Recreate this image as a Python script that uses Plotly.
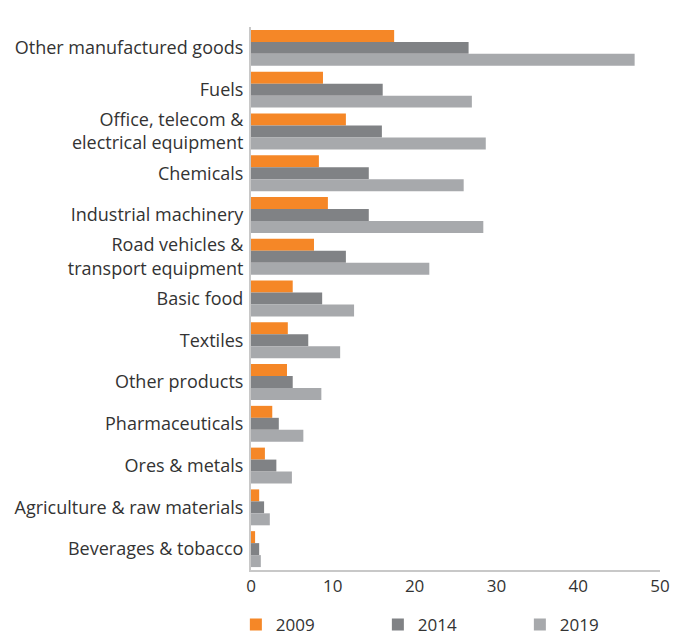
import plotly.graph_objects as go

categories = [
    "Other manufactured goods",
    "Fuels",
    "Office, telecom &<br>electrical equipment",
    "Chemicals",
    "Industrial machinery",
    "Road vehicles &<br>transport equipment",
    "Basic food",
    "Textiles",
    "Other products",
    "Pharmaceuticals",
    "Ores & metals",
    "Agriculture & raw materials",
    "Beverages & tobacco",
]
v2009 = [17.5, 8.8, 11.6, 8.3, 9.4, 7.7, 5.1, 4.5, 4.4, 2.6, 1.7, 1.0, 0.5]
v2014 = [26.6, 16.1, 16.0, 14.4, 14.4, 11.6, 8.7, 7.0, 5.1, 3.4, 3.1, 1.6, 1.0]
v2019 = [46.9, 27.0, 28.7, 26.0, 28.4, 21.8, 12.6, 10.9, 8.6, 6.4, 5.0, 2.3, 1.2]
series_names = ["2009", "2014", "2019"]
colors = ["#F58727", "#808285", "#A7A9AC"]
xticks = [0, 10, 20, 30, 40, 50]

fig = go.Figure()
for name, vals, col in zip(series_names, [v2009, v2014, v2019], colors):
    fig.add_trace(go.Bar(y=categories, x=vals, name=name, orientation="h",
                         marker=dict(color=col, line=dict(width=0))))

font_family = "Open Sans, Noto Sans, sans-serif"
fig.update_layout(
    width=673, height=635,
    margin=dict(l=251, r=13, t=27, b=65, autoexpand=False),
    paper_bgcolor="white", plot_bgcolor="white",
    barmode="group", bargap=0.14, bargroupgap=0,
    font=dict(family=font_family, size=17, color="#333333"),
    showlegend=True,
    legend=dict(orientation="h", x=-0.037, xanchor="left",
                y=-0.101, yanchor="middle",
                bgcolor="rgba(0,0,0,0)",
                entrywidth=97, entrywidthmode="pixels",
                font=dict(size=17, color="#333333"), itemsizing="constant",
                traceorder="normal"),
)
fig.update_xaxes(range=[0, 50], tickvals=xticks, showgrid=False, zeroline=False,
                 showline=True, linecolor="#C8C8C8", linewidth=2, ticks="",
                 tickfont=dict(size=17, color="#333333"))
fig.update_yaxes(autorange="reversed", showgrid=False, zeroline=False,
                 showline=True, linecolor="#C8C8C8", linewidth=2, ticks="",
                 ticklabelstandoff=2,
                 tickfont=dict(size=18, color="#333333"))

fig.write_html("out.html")
